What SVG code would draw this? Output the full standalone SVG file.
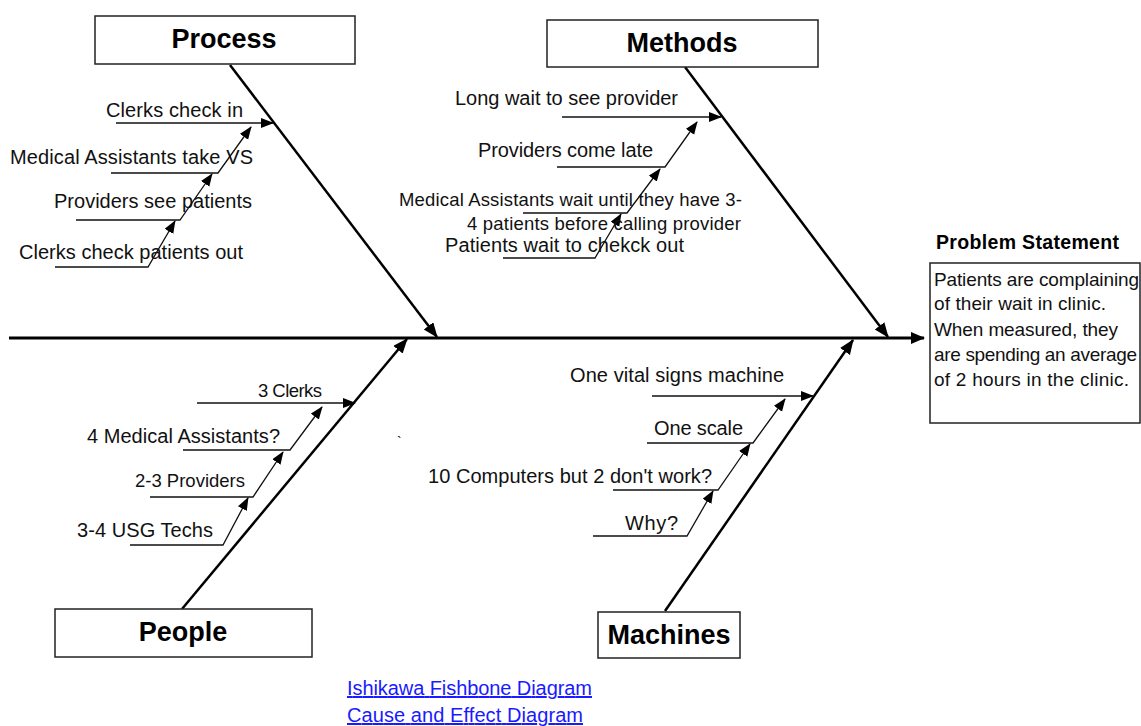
<svg xmlns="http://www.w3.org/2000/svg" width="1141" height="726" viewBox="0 0 1141 726">
<defs>
<style>
.box{fill:#fff;stroke:#222;stroke-width:1.5}
.hdr{font-family:"Liberation Sans",Arial,sans-serif;font-weight:bold;font-size:27px;fill:#000;text-anchor:middle}
.lbl{font-family:"Liberation Sans",Arial,sans-serif;font-size:20px;fill:#111}
.cal{font-family:"Liberation Sans",Arial,sans-serif;font-size:18.5px;fill:#111}
.ps{font-family:"Liberation Sans",Arial,sans-serif;font-size:19px;fill:#111}
.link{font-family:"Liberation Sans",Arial,sans-serif;font-size:20px;fill:#1a1aff;text-decoration:underline}
.spine{fill:none;stroke:#000;stroke-width:3}
.bone{fill:none;stroke:#000;stroke-width:2.5}
.sub{fill:none;stroke:#111;stroke-width:1.3}
</style>
<marker id="ah-spine" markerUnits="userSpaceOnUse" markerWidth="16" markerHeight="14" refX="13" refY="6" orient="auto"><path d="M0,0 L14,6 L0,12 Z" fill="#000"/></marker>
<marker id="ah-bone" markerUnits="userSpaceOnUse" markerWidth="16" markerHeight="14" refX="14" refY="6" orient="auto"><path d="M0,0 L15,6 L0,12 Z" fill="#000"/></marker>
<marker id="ah-sub" markerUnits="userSpaceOnUse" markerWidth="14" markerHeight="12" refX="12" refY="5" orient="auto"><path d="M0,0 L13,5 L0,10 Z" fill="#000"/></marker>
</defs>

<g id="connectors">
<path class="spine" d="M 9 338 L 924 338" marker-end="url(#ah-spine)"/>
<path class="bone" d="M 230 65 L 437 337" marker-end="url(#ah-bone)"/>
<path class="bone" d="M 685 67 L 888 337" marker-end="url(#ah-bone)"/>
<path class="bone" d="M 182 609 L 407 339" marker-end="url(#ah-bone)"/>
<path class="bone" d="M 665 611 L 853 340" marker-end="url(#ah-bone)"/>
<!-- Process subs -->
<path class="sub" d="M 116 123 L 273 123" marker-end="url(#ah-sub)"/>
<path class="sub" d="M 111 173 L 218 173 L 251 127" marker-end="url(#ah-sub)"/>
<path class="sub" d="M 76 220 L 180 220 L 212 174" marker-end="url(#ah-sub)"/>
<path class="sub" d="M 55 267 L 148 267 L 175 221" marker-end="url(#ah-sub)"/>
<!-- Methods subs -->
<path class="sub" d="M 562 117 L 721 117" marker-end="url(#ah-sub)"/>
<path class="sub" d="M 557 167 L 665 167 L 697 122" marker-end="url(#ah-sub)"/>
<path class="sub" d="M 523 213 L 627 213 L 660 169" marker-end="url(#ah-sub)"/>
<path class="sub" d="M 503 258 L 595 258 L 621 214" marker-end="url(#ah-sub)"/>
<!-- People subs -->
<path class="sub" d="M 197 403 L 355 403" marker-end="url(#ah-sub)"/>
<path class="sub" d="M 183 450 L 290 450 L 322 407" marker-end="url(#ah-sub)"/>
<path class="sub" d="M 150 497 L 253 497 L 283 452" marker-end="url(#ah-sub)"/>
<path class="sub" d="M 130 545 L 223 545 L 248 498" marker-end="url(#ah-sub)"/>
<!-- Machines subs -->
<path class="sub" d="M 652 396 L 813 396" marker-end="url(#ah-sub)"/>
<path class="sub" d="M 647 443 L 753 443 L 785 399" marker-end="url(#ah-sub)"/>
<path class="sub" d="M 613 490 L 718 490 L 750 444" marker-end="url(#ah-sub)"/>
<path class="sub" d="M 593 536 L 687 536 L 713 491" marker-end="url(#ah-sub)"/>
</g>

<g id="process">
<rect class="box" x="95" y="16" width="260" height="48"/>
<text class="hdr" x="224" y="48">Process</text>
<text class="lbl" x="106" y="117" textLength="137">Clerks check in</text>
<text class="lbl" x="10" y="164" textLength="243">Medical Assistants take VS</text>
<text class="lbl" x="54" y="208" textLength="198">Providers see patients</text>
<text class="lbl" x="19" y="259" textLength="224">Clerks check patients out</text>
</g>

<g id="methods">
<rect class="box" x="547" y="20" width="271" height="47"/>
<text class="hdr" x="682" y="52">Methods</text>
<text class="lbl" x="455" y="105" textLength="223">Long wait to see provider</text>
<text class="lbl" x="478" y="157" textLength="175">Providers come late</text>
<text class="cal" x="399" y="206" textLength="343">Medical Assistants wait until they have 3-</text>
<text class="cal" x="467" y="230" textLength="274">4 patients before calling provider</text>
<text class="lbl" x="445" y="252" textLength="239">Patients wait to chekck out</text>
</g>

<g id="people">
<rect class="box" x="55" y="609" width="257" height="48"/>
<text class="hdr" x="183" y="641">People</text>
<text class="cal" x="258" y="397" textLength="64">3 Clerks</text>
<text class="lbl" x="87" y="443" textLength="193">4 Medical Assistants?</text>
<text class="cal" x="135" y="487" textLength="110">2-3 Providers</text>
<text class="lbl" x="77" y="537" textLength="136">3-4 USG Techs</text>
</g>

<g id="machines">
<rect class="box" x="598" y="612" width="142" height="46"/>
<text class="hdr" x="669" y="644">Machines</text>
<text class="lbl" x="570" y="382" textLength="214">One vital signs machine</text>
<text class="lbl" x="654" y="435" textLength="89">One scale</text>
<text class="lbl" x="428" y="483" textLength="284">10 Computers but 2 don't work?</text>
<text class="lbl" x="625" y="530" textLength="53">Why?</text>
</g>

<g id="problem">
<text x="936" y="249" font-family="Liberation Sans, Arial, sans-serif" font-weight="bold" font-size="19.5px" fill="#000" textLength="183">Problem Statement</text>
<rect class="box" x="930" y="263" width="210" height="160"/>
<text class="ps" x="934" y="286" textLength="205">Patients are complaining</text>
<text class="ps" x="934" y="310" textLength="172">of their wait in clinic.</text>
<text class="ps" x="934" y="336" textLength="184">When measured, they</text>
<text class="ps" x="934" y="361" textLength="203">are spending an average</text>
<text class="ps" x="934" y="386" textLength="195">of 2 hours in the clinic.</text>
</g>

<text x="397" y="447" font-family="Liberation Sans, Arial, sans-serif" font-size="14px" fill="#000">`</text>

<g id="links">
<text class="link" x="347" y="695" textLength="245">Ishikawa Fishbone Diagram</text>
<text class="link" x="347" y="722" textLength="236">Cause and Effect Diagram</text>
</g>
</svg>
